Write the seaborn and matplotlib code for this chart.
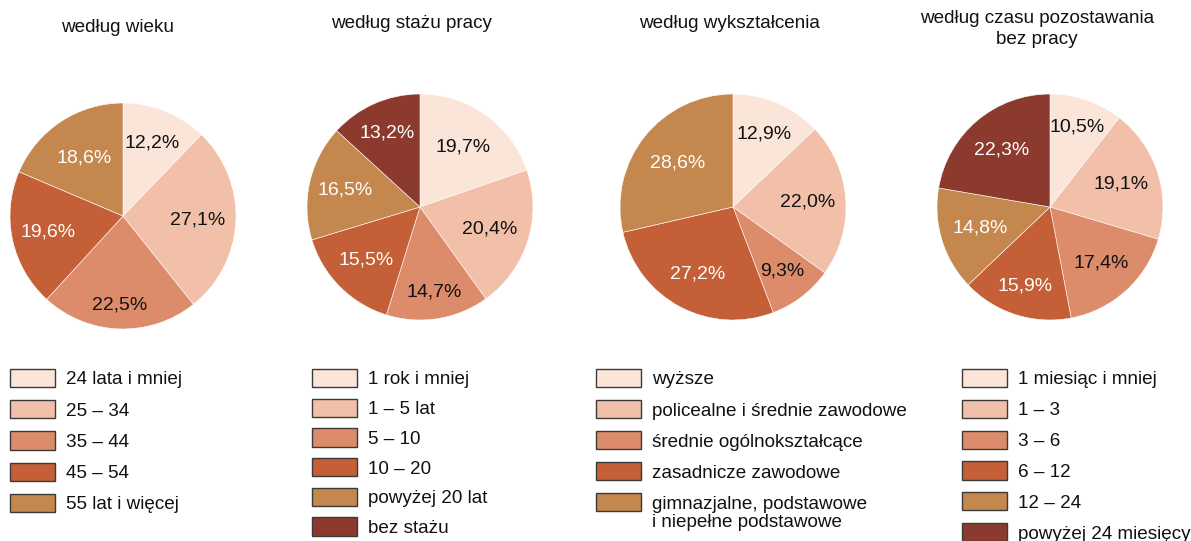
import matplotlib
matplotlib.use("Agg")
import matplotlib.pyplot as plt
import seaborn as sns
import numpy as np
from matplotlib.patches import Patch

sns.set_style("white")
plt.rcParams['font.family'] = ['Liberation Sans', 'DejaVu Sans']

# data
titles = ["według wieku", "według stażu pracy", "według wykształcenia",
          "według czasu pozostawania\nbez pracy"]
age_labels = ["24 lata i mniej", "25 – 34", "35 – 44", "45 – 54", "55 lat i więcej"]
age_values = [12.2, 27.1, 22.5, 19.6, 18.6]
tenure_labels = ["1 rok i mniej", "1 – 5 lat", "5 – 10", "10 – 20", "powyżej 20 lat", "bez stażu"]
tenure_values = [19.7, 20.4, 14.7, 15.5, 16.5, 13.2]
edu_labels = ["wyższe", "policealne i średnie zawodowe", "średnie ogólnokształcące",
              "zasadnicze zawodowe", "gimnazjalne, podstawowe\ni niepełne podstawowe"]
edu_values = [12.9, 22.0, 9.3, 27.2, 28.6]
time_labels = ["1 miesiąc i mniej", "1 – 3", "3 – 6", "6 – 12", "12 – 24", "powyżej 24 miesięcy"]
time_values = [10.5, 19.1, 17.4, 15.9, 14.8, 22.3]

palette = sns.color_palette(["#FAE5D8", "#F2C0A8", "#DC8B6B", "#C45F37", "#C4884E", "#8C3A2E"])
label_colors = ["#111111", "#111111", "#111111", "white", "white", "white"]

# radial position of the percentage labels (fraction of radius), per slice
label_dist = [[0.70, 0.66, 0.79, 0.68, 0.62],
              [0.65, 0.65, 0.76, 0.67, 0.68, 0.72],
              [0.70, 0.66, 0.72, 0.67, 0.63],
              [0.75, 0.66, 0.67, 0.73, 0.65, 0.66]]

W, H = 1191, 541
fig = plt.figure(figsize=(W / 100, H / 100), dpi=100)

charts = [(age_labels, age_values), (tenure_labels, tenure_values),
          (edu_labels, edu_values), (time_labels, time_values)]
# pie centre x, centre y, title x/y (pixels)
centers = [(123, 216), (420, 207), (733, 207), (1050, 207)]
title_pos = [(117, 27), (412, 24), (729, 24), (1037, 29)]
legend_x = [10, 312, 596, 962]
legend_gap = [0.62, 0.54, 0.61, 0.6]
R = 113
fs = 13.6
fs_pct = 14

legends = []
for i, (labels, values) in enumerate(charts):
    cx, cy = centers[i]
    ax = fig.add_axes([(cx - R) / W, (H - cy - R) / H, 2 * R / W, 2 * R / H])
    n = len(values)
    wedges, _, autotexts = ax.pie(
        values, colors=palette[:n], startangle=90, counterclock=False,
        autopct=lambda p: f"{p:.1f}%".replace(".", ","), pctdistance=0.7,
        wedgeprops=dict(edgecolor="white", linewidth=0.4),
        textprops=dict(fontsize=fs_pct))
    for w, t, c, d in zip(wedges, autotexts, label_colors, label_dist[i]):
        t.set_color(c)
        ang = np.deg2rad((w.theta1 + w.theta2) / 2)
        t.set_position((d * np.cos(ang), d * np.sin(ang)))
    ax.set_xlim(-1, 1)
    ax.set_ylim(-1, 1)
    ax.set_aspect("equal")
    ax.axis("off")

    tx, ty = title_pos[i]
    fig.text(tx / W, 1 - ty / H, titles[i], ha="center", va="center",
             fontsize=fs, color="#111111", linespacing=1.25)

    handles = [Patch(facecolor=palette[k], edgecolor="#3a3a3a", linewidth=1)
               for k in range(n)]
    first_lines = [lab.split("\n")[0] for lab in labels]
    leg = fig.legend(handles, first_lines, loc="upper left",
                     bbox_to_anchor=(legend_x[i] / W, 1 - 369 / H),
                     bbox_transform=fig.transFigure, frameon=False,
                     borderpad=0, borderaxespad=0, fontsize=fs,
                     handlelength=2.4, handleheight=1.1, handletextpad=0.55,
                     labelspacing=legend_gap[i], labelcolor="#111111")
    legends.append((leg, labels))

# continuation lines of two-line legend labels
fig.canvas.draw()
for leg, labels in legends:
    for txt, lab in zip(leg.get_texts(), labels):
        if "\n" in lab:
            bb = txt.get_window_extent()
            fig.text(bb.x0 / W, (bb.y0 - 1) / H, lab.split("\n", 1)[1],
                     ha="left", va="top", fontsize=fs, color="#111111")

fig.savefig("out.png", dpi=100)
